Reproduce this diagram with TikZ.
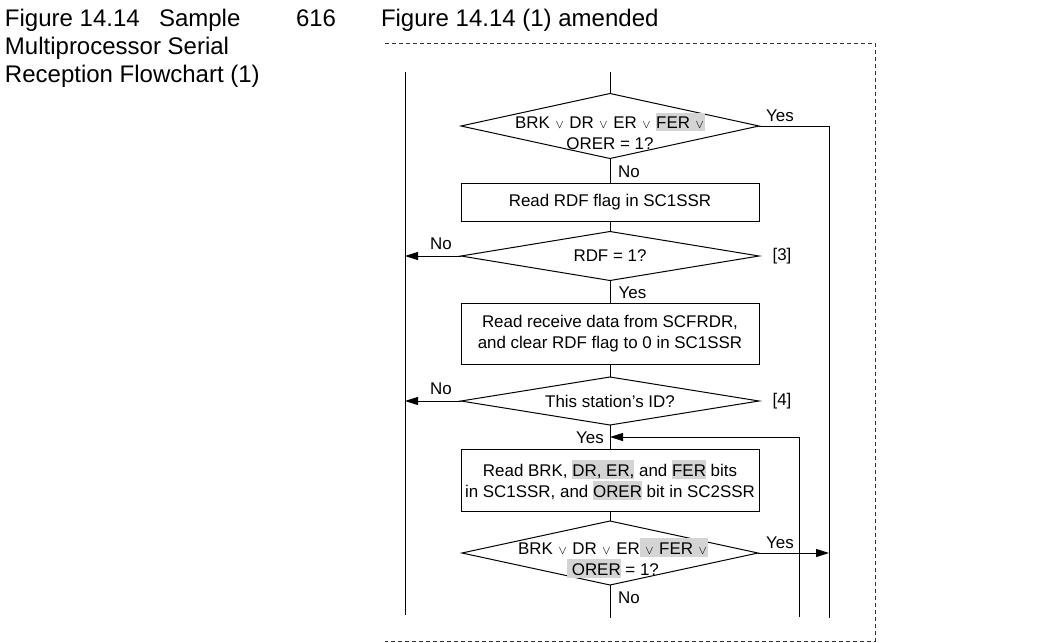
\documentclass[tikz,border=0pt]{standalone}
\usepackage{fontspec}
\setmainfont{Liberation Sans}
\usetikzlibrary{shapes.geometric,arrows.meta}
\definecolor{hlgray}{RGB}{212,212,212}
\newcommand{\hlbox}[1]{{\setlength{\fboxsep}{0pt}\colorbox{hlgray}{\rule[-1.8pt]{0pt}{13.8pt}#1}}}
\newcommand{\orsym}{\makebox[7.5pt]{\fontsize{9}{9}\selectfont$\vee$}}
\begin{document}
\begin{tikzpicture}[x=0.75pt,y=-0.75pt,line width=0.75pt,
  every node/.style={inner sep=0pt, outer sep=0pt},
  hdr/.style={anchor=base west, font=\fontsize{18}{21}\selectfont},
  txt/.style={font=\fontsize{12.7}{15.5}\selectfont, align=center},
  lbl/.style={font=\fontsize{12.7}{15.5}\selectfont},
  dia/.style={diamond, draw, aspect=6.1, minimum width=223.5pt, txt},
  procbox/.style={rectangle, draw, minimum width=223.5pt, txt},
  arr/.style={-{Triangle[length=9.75pt,width=6pt]}},
  frame/.style={dash pattern=on 3pt off 2.25pt, draw=black!80}
]
\useasboundingbox (0,0) rectangle (1051,643);

% header texts
\node[hdr] (h1) at (5,26) {Figure 14.14\hspace{14.5pt}Sample};
\node[hdr] (h2) at (5,54) {Multiprocessor Serial};
\node[hdr] (h3) at (5,82) {Reception Flowchart (1)};
\node[hdr] (pg) at (296,26) {616};
\node[hdr] (ttl) at (381,26) {Figure 14.14 (1) amended};

% dashed frame
\coordinate (fa) at (385,43);
\coordinate (fb) at (875,43);
\coordinate (fc) at (875,641);
\coordinate (fd) at (385,641);
\draw[frame] (fa) -- (fb) -- (fc) -- (fd);

% flow nodes
\node[dia, minimum height=48.75pt] (d1) at (610,126) {};
\node[txt] (d1t) at (610,131) {BRK \orsym{} DR \orsym{} ER \orsym{} \hlbox{FER \orsym}\\ORER = 1?};
\node[procbox, minimum height=28.5pt] (b1) at (610,202) {Read RDF flag in SC1SSR};
\node[dia, minimum height=36.75pt] (d2) at (610,256) {RDF = 1?};
\node[procbox, minimum height=45.75pt] (b2) at (610,333.5) {Read receive data from SCFRDR,\\and clear RDF flag to 0 in SC1SSR};
\node[dia, minimum height=36pt] (d3) at (610,401) {This station’s ID?};
\node[procbox, minimum height=46.5pt] (b3) at (610,480) {Read BRK, \hlbox{DR, ER,} and \hlbox{FER} bits\\in SC1SSR, and \hlbox{ORER} bit in SC2SSR};
\node[dia, minimum height=48pt, minimum width=222pt] (d4) at (610,553) {};
\node[txt] (d4t) at (613,558) {BRK \orsym{} DR \orsym{} ER\hlbox{ \orsym{} FER \orsym}\\\hlbox{\ ORER} = 1?};

% labels
\node[lbl, anchor=base] (y1) at (780,121) {Yes};
\node[lbl, anchor=base] (n1) at (629,177) {No};
\node[lbl, anchor=base] (n2) at (441,249) {No};
\node[lbl] (k3) at (782,256) {[3]};
\node[lbl, anchor=base] (y2) at (632.5,298) {Yes};
\node[lbl, anchor=base] (n3) at (441,394) {No};
\node[lbl] (k4) at (782,401) {[4]};
\node[lbl, anchor=base] (y3) at (590,443) {Yes};
\node[lbl, anchor=base] (y4) at (780,548) {Yes};
\node[lbl, anchor=base] (n4) at (629,603) {No};

% coordinates for free ends
\coordinate (topin) at (610,72);
\coordinate (botout) at (610,618);
\coordinate (ltop) at (405,72);
\coordinate (lbot) at (405,615);
\coordinate (rbot) at (829,618);
\coordinate (lpbot) at (799,617);
\coordinate (lpin) at (610,437);

% connectors
\draw (topin) -- (d1.north);
\draw (d1.south) -- (b1.north);
\draw (b1.south) -- (d2.north);
\draw (d2.south) -- (b2.north);
\draw (b2.south) -- (d3.north);
\draw (d3.south) -- (b3.north);
\draw (b3.south) -- (d4.north);
\draw (d4.south) -- (botout);
\draw (ltop) -- (lbot);
\draw (d1.east) -| (rbot);
\draw[arr] (d2.west) -- (d2.west -| ltop);
\draw[arr] (d3.west) -- (d3.west -| ltop);
\draw[arr] (lpbot) |- (lpin);
\draw[arr] (d4.east) -- (d4.east -| rbot);
\end{tikzpicture}
\end{document}
